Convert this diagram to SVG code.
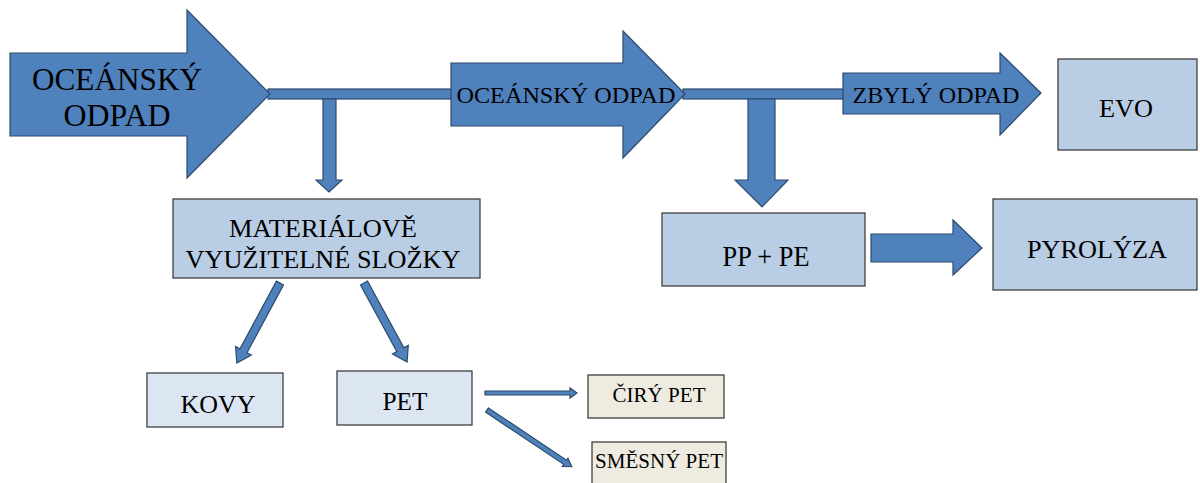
<svg xmlns="http://www.w3.org/2000/svg" width="1200" height="483" viewBox="0 0 1200 483">
<style>
.ar{fill:#4F81BD;stroke:#2C4A6E;stroke-width:1.2}
.bx{fill:#B9CDE5;stroke:#3F3F3F;stroke-width:1.3}
.bl{fill:#DCE6F2;stroke:#3F3F3F;stroke-width:1.3}
.bg{fill:#EEECE1;stroke:#3F3F3F;stroke-width:1.3}
.t{font-family:"Liberation Serif","Times New Roman","DejaVu Serif","Noto Serif",Times,serif;fill:#000;text-anchor:middle}
</style>
<rect width="1200" height="483" fill="#fff"/>
<g id="connectors">
<rect class="ar" x="268" y="89" width="185" height="10"/>
<rect class="ar" x="683" y="89" width="162" height="10"/>
<polygon class="ar" points="323,99 336,99 336,180 342,180 329,192 316,180 323,180"/>
<polygon class="ar" points="748,99 775,99 775,180 788,180 762,207 735,180 748,180"/>
<polygon class="ar" points="871,234 953,234 953,220 982,248 953,275 953,262 871,262"/>
<g transform="translate(280,283) rotate(118.3)"><polygon class="ar" points="0,-4 77,-4 77,-9 91,0 77,9 77,4 0,4"/></g>
<g transform="translate(364,283) rotate(61.4)"><polygon class="ar" points="0,-4 76,-4 76,-9 90,0 76,9 76,4 0,4"/></g>
<polygon class="ar" points="485,391 570,391 570,388 577,393 570,398 570,395 485,395"/>
<g transform="translate(487,410) rotate(33.8)"><polygon class="ar" points="0,-2.5 94,-2.5 94,-5 102,0 94,5 94,2.5 0,2.5"/></g>
</g>
<g id="n-ocean1">
<polygon class="ar" points="10,53 187,53 187,10 270,94 187,178 187,136 10,136"/>
<text class="t" x="117" y="90" font-size="31" textLength="170" lengthAdjust="spacingAndGlyphs">OCEÁNSKÝ</text>
<text class="t" x="117" y="126" font-size="31" textLength="107" lengthAdjust="spacingAndGlyphs">ODPAD</text>
</g>
<g id="n-ocean2">
<polygon class="ar" points="451,63 623,63 623,31 685,94 623,158 623,126 451,126"/>
<text class="t" x="566" y="103" font-size="24" textLength="219" lengthAdjust="spacingAndGlyphs">OCEÁNSKÝ ODPAD</text>
</g>
<g id="n-zbyly">
<polygon class="ar" points="843,73 1000,73 1000,53 1041,93 1000,135 1000,114 843,114"/>
<text class="t" x="936" y="103" font-size="24" textLength="167" lengthAdjust="spacingAndGlyphs">ZBYLÝ ODPAD</text>
</g>
<g id="n-evo">
<rect class="bx" x="1058" y="59" width="139" height="91"/>
<text class="t" x="1126" y="117" font-size="26" textLength="54" lengthAdjust="spacingAndGlyphs">EVO</text>
</g>
<g id="n-ppe">
<rect class="bx" x="662" y="213" width="203" height="73"/>
<text class="t" x="766" y="266" font-size="30" textLength="87" lengthAdjust="spacingAndGlyphs">PP + PE</text>
</g>
<g id="n-pyro">
<rect class="bx" x="993" y="199" width="204" height="91"/>
<text class="t" x="1097" y="258" font-size="26" textLength="140" lengthAdjust="spacingAndGlyphs">PYROLÝZA</text>
</g>
<g id="n-mat">
<rect class="bx" x="173" y="199" width="307" height="79"/>
<text class="t" x="323" y="237" font-size="26" textLength="188" lengthAdjust="spacingAndGlyphs">MATERIÁLOVĚ</text>
<text class="t" x="323" y="268" font-size="26" textLength="275" lengthAdjust="spacingAndGlyphs">VYUŽITELNÉ SLOŽKY</text>
</g>
<g id="n-kovy">
<rect class="bl" x="147" y="373" width="136" height="54"/>
<text class="t" x="218" y="413" font-size="26" textLength="75" lengthAdjust="spacingAndGlyphs">KOVY</text>
</g>
<g id="n-pet">
<rect class="bl" x="337" y="371" width="135" height="54"/>
<text class="t" x="405" y="410" font-size="25" textLength="45" lengthAdjust="spacingAndGlyphs">PET</text>
</g>
<g id="n-ciry">
<rect class="bg" x="588" y="375" width="136" height="43"/>
<text class="t" x="659" y="402" font-size="21" textLength="93" lengthAdjust="spacingAndGlyphs">ČIRÝ PET</text>
</g>
<g id="n-smesny">
<rect class="bg" x="592" y="442" width="134" height="50"/>
<text class="t" x="659" y="468" font-size="21" textLength="128" lengthAdjust="spacingAndGlyphs">SMĚSNÝ PET</text>
</g>
</svg>
